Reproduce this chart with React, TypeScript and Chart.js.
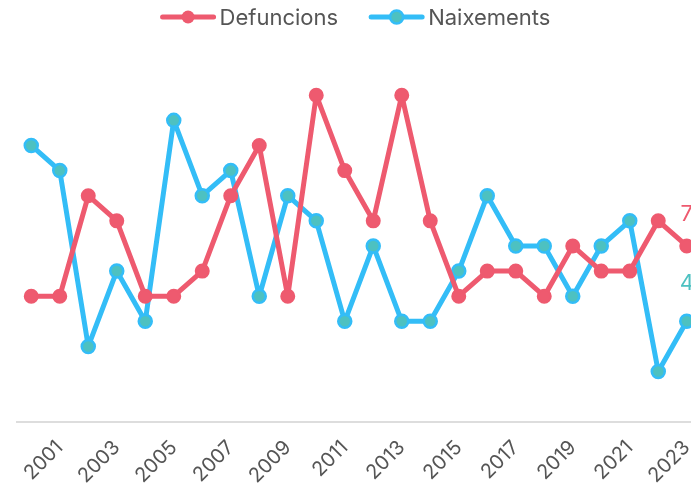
import React, { useEffect, useRef } from "react";
import { Chart, registerables } from "chart.js";

Chart.register(...registerables);

const years = [
  "2000", "2001", "2002", "2003", "2004", "2005", "2006", "2007", "2008", "2009", "2010", "2011",
  "2012", "2013", "2014", "2015", "2016", "2017", "2018", "2019", "2020", "2021", "2022", "2023",
];
const defuncions = [5, 5, 9, 8, 5, 5, 6, 9, 11, 5, 13, 10, 8, 13, 8, 5, 6, 6, 5, 7, 6, 6, 8, 7];
const naixements = [11, 10, 3, 6, 4, 12, 9, 10, 5, 9, 8, 4, 7, 4, 4, 6, 9, 7, 7, 5, 7, 8, 2, 4];

const RED = "#ee5a6f";
const BLUE = "#33bdf7";
const TEAL = "#4dc1c1";
const FONT = "Inter, 'Liberation Sans', sans-serif";

function drawSymbol(ctx: CanvasRenderingContext2D, x: number, y: number, line: string, fill: string, border: string) {
  ctx.save();
  ctx.strokeStyle = line;
  ctx.lineWidth = 5;
  ctx.lineCap = "round";
  ctx.beginPath();
  ctx.moveTo(x + 3, y);
  ctx.lineTo(x + 54, y);
  ctx.stroke();
  ctx.beginPath();
  ctx.arc(x + 28.5, y, 6.5, 0, Math.PI * 2);
  ctx.fillStyle = fill;
  ctx.fill();
  if (border !== fill) {
    ctx.lineWidth = 2.5;
    ctx.strokeStyle = border;
    ctx.stroke();
  }
  ctx.restore();
}

const customLegend = {
  id: "customLegend",
  afterDraw(chart: any) {
    const ctx = chart.ctx as CanvasRenderingContext2D;
    ctx.save();
    ctx.font = `22px ${FONT}`;
    const items = chart.data.datasets.map((ds: any) => ({
      ds,
      tw: ctx.measureText(ds.label).width,
    }));
    const symW = 57, gap = 3, between = 30;
    const total = items.reduce((s: number, it: any) => s + symW + gap + it.tw, 0) + between * (items.length - 1);
    let x = chart.width / 2 - total / 2;
    const y = 17;
    items.forEach((it: any) => {
      const ds = it.ds;
      drawSymbol(ctx, x, y, ds.borderColor, ds.pointBackgroundColor, ds.pointBorderColor);
      x += symW + gap;
      ctx.fillStyle = "#555";
      ctx.textAlign = "left";
      ctx.textBaseline = "middle";
      ctx.fillText(ds.label, x, y + 1);
      x += it.tw + between;
    });
    ctx.restore();
  },
};

const lastLabelPlugin = {
  id: "lastLabel",
  afterDatasetsDraw(chart: any) {
    const ctx = chart.ctx;
    chart.data.datasets.forEach((ds: any, i: number) => {
      const meta = chart.getDatasetMeta(i);
      const n = ds.data.length - 1;
      const pt = meta.data[n];
      if (!pt) return;
      ctx.save();
      ctx.font = `22px ${FONT}`;
      ctx.fillStyle = ds.labelColor;
      ctx.textAlign = "center";
      ctx.textBaseline = "middle";
      ctx.fillText(String(ds.data[n]), pt.x, pt.y - ds.labelOffset);
      ctx.restore();
    });
  },
};

export default function App() {
  const ref = useRef<HTMLCanvasElement>(null);
  useEffect(() => {
    const chart = new Chart(ref.current!, {
      type: "line",
      data: {
        labels: years,
        datasets: [
          {
            label: "Defuncions",
            data: defuncions,
            borderColor: RED,
            backgroundColor: RED,
            pointBackgroundColor: RED,
            pointBorderColor: RED,
            borderWidth: 5,
            borderJoinStyle: "round",
            borderCapStyle: "round",
            pointRadius: 6.5,
            pointBorderWidth: 2,
            tension: 0,
            labelColor: RED,
            labelOffset: 32,
          } as any,
          {
            label: "Naixements",
            data: naixements,
            borderColor: BLUE,
            backgroundColor: TEAL,
            pointBackgroundColor: TEAL,
            pointBorderColor: BLUE,
            borderWidth: 5,
            borderJoinStyle: "round",
            borderCapStyle: "round",
            pointRadius: 6.5,
            pointBorderWidth: 2.5,
            tension: 0,
            labelColor: TEAL,
            labelOffset: 38,
          } as any,
        ],
      },
      options: {
        responsive: false,
        animation: false,
        layout: { padding: { left: 17, right: 7, top: 45, bottom: -5 } },
        plugins: {
          tooltip: { enabled: false },
          legend: { display: false },
        },
        scales: {
          x: {
            offset: true,
            grid: { display: false },
            border: { color: "#dddddd", width: 2 },
            ticks: {
              autoSkip: false,
              maxRotation: 45,
              minRotation: 45,
              padding: 6,
              color: "#555",
              font: { family: FONT, size: 20 },
              callback: (_v: any, i: number) => (i % 2 === 1 ? years[i] : null),
            },
          },
          y: { display: false, min: 0, max: 15 },
        },
      },
      plugins: [lastLabelPlugin, customLegend],
    });
    return () => chart.destroy();
  }, []);
  return (
    <div style={{ position: "fixed", left: 0, top: 0, width: 691, height: 489, overflow: "hidden", background: "#fff" }}>
      <canvas ref={ref} width={710} height={489} style={{ display: "block" }} />
    </div>
  );
}
